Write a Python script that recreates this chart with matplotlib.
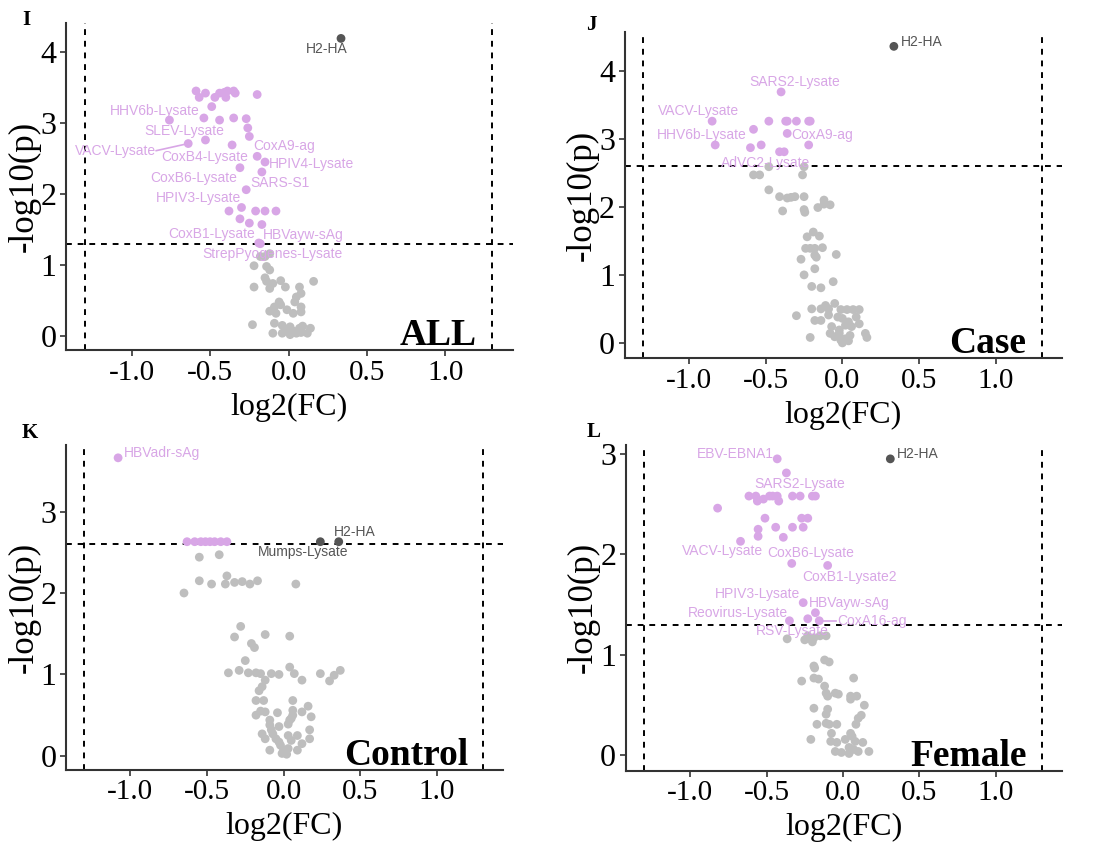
import matplotlib
matplotlib.use("Agg")
import matplotlib.pyplot as plt

plt.rcParams["axes.unicode_minus"] = False

# ---- panel I (ALL) ----
i_up_x = [-0.59, -0.57, -0.53, -0.47, -0.44, -0.41, -0.40, -0.39, -0.35, -0.34, -0.20,
          -0.49, -0.54, -0.44, -0.35, -0.27, -0.26, -0.25, -0.38, -0.30, -0.21, -0.15,
          -0.08, -0.25, -0.17]
i_up_y = [3.45, 3.36, 3.42, 3.36, 3.42, 3.43, 3.36, 3.45, 3.45, 3.42, 3.40,
          3.23, 3.07, 3.04, 3.07, 3.06, 2.93, 2.81, 1.76, 1.81, 1.76, 1.76,
          1.76, 1.59, 1.57]
i_ns_x = [-0.18, -0.15, -0.12, -0.22, -0.14, -0.12, -0.15, -0.14, -0.10, -0.05, -0.02,
          0.07, 0.08, 0.16, -0.22, -0.12, 0.05, 0.04, -0.06, -0.05, -0.09, -0.12,
          -0.08, 0.03, 0.08, 0.08, -0.01, -0.23, -0.09, -0.04, 0.01, 0.07, 0.09,
          0.14, -0.10, -0.04, 0.01, 0.05, 0.12, -0.01, 0.03, 0.08]
i_ns_y = [1.12, 1.12, 1.16, 0.99, 0.98, 0.93, 0.82, 0.77, 0.74, 0.78, 0.69,
          0.69, 0.60, 0.77, 0.69, 0.67, 0.55, 0.48, 0.48, 0.44, 0.41, 0.35,
          0.32, 0.32, 0.34, 0.41, 0.37, 0.16, 0.18, 0.15, 0.13, 0.11, 0.14,
          0.11, 0.04, 0.04, 0.02, 0.04, 0.04, 0.08, 0.07, 0.05]
i_hi_x = [0.335]
i_hi_y = [4.19]
i_hi_lab = ["H2-HA"]
i_lab = ["HHV6b-Lysate", "SLEV-Lysate", "VACV-Lysate", "CoxB4-Lysate", "CoxA9-ag",
         "HPIV4-Lysate", "CoxB6-Lysate", "SARS-S1", "HPIV3-Lysate", "CoxB1-Lysate",
         "HBVayw-sAg", "StrepPyogenes-Lysate"]
i_lab_x = [-0.76, -0.53, -0.64, -0.36, -0.20, -0.15, -0.31, -0.17, -0.27, -0.31, -0.18, -0.19]
i_lab_y = [3.04, 2.76, 2.71, 2.69, 2.53, 2.45, 2.37, 2.31, 2.06, 1.65, 1.30, 1.31]

# ---- panel J (Case) ----
j_up_x = [-0.58, -0.60, -0.53, -0.48, -0.37, -0.36, -0.30, -0.22, -0.21, -0.22, -0.38]
j_up_y = [3.14, 2.87, 2.91, 3.26, 3.26, 3.26, 3.26, 3.26, 3.26, 2.91, 2.81]
j_ns_x = [-0.48, -0.25, -0.58, -0.54, -0.26, -0.48, -0.41, -0.36, -0.335, -0.31, -0.25,
          -0.39, -0.25, -0.245, -0.16, -0.12, -0.12, -0.08, -0.23, -0.19, -0.15, -0.24,
          -0.21, -0.18, -0.13, -0.27, -0.18, -0.17, -0.04, -0.18, -0.25, -0.20, -0.14,
          -0.06, -0.20, -0.14, -0.11, -0.09, -0.05, -0.01, 0.03, 0.07, 0.11, -0.30,
          -0.18, -0.14, -0.09, -0.03, 0.00, 0.04, 0.09, -0.07, -0.02, 0.02, 0.06,
          0.11, -0.21, -0.05, -0.01, 0.02, 0.05, 0.15, 0.16, 0.00, 0.04, -0.08, -0.02]
j_ns_y = [2.59, 2.59, 2.47, 2.47, 2.47, 2.25, 2.15, 2.13, 2.14, 2.15, 2.15,
          1.94, 1.96, 1.92, 1.99, 2.10, 2.04, 2.03, 1.56, 1.63, 1.57, 1.39,
          1.39, 1.39, 1.40, 1.23, 1.29, 1.26, 1.30, 1.09, 1.00, 0.83, 0.81,
          0.90, 0.50, 0.50, 0.55, 0.50, 0.58, 0.49, 0.49, 0.49, 0.49, 0.40,
          0.33, 0.33, 0.41, 0.38, 0.36, 0.31, 0.38, 0.24, 0.19, 0.26, 0.24,
          0.28, 0.08, 0.09, 0.04, 0.06, 0.11, 0.14, 0.08, 0.00, 0.03, 0.14, 0.14]
j_hi_x = [0.336]
j_hi_y = [4.36]
j_hi_lab = ["H2-HA"]
j_lab = ["SARS2-Lysate", "VACV-Lysate", "HHV6b-Lysate", "CoxA9-ag", "AdVC2-Lysate"]
j_lab_x = [-0.40, -0.85, -0.83, -0.36, -0.41]
j_lab_y = [3.69, 3.26, 2.91, 3.08, 2.81]

# ---- panel K (Control) ----
k_up_x = [-0.63, -0.58, -0.54, -0.51, -0.48, -0.45, -0.41, -0.37]
k_up_y = [2.63, 2.63, 2.63, 2.63, 2.63, 2.63, 2.63, 2.63]
k_ns_x = [-0.55, -0.42, -0.65, -0.55, -0.47, -0.38, -0.37, -0.32, -0.27, -0.22, -0.17,
          0.08, -0.28, -0.32, -0.12, 0.04, -0.21, -0.19, -0.25, -0.36, -0.29, -0.23,
          -0.18, -0.15, -0.08, -0.03, 0.04, 0.07, 0.12, 0.24, 0.30, 0.33, 0.37,
          -0.12, -0.14, -0.16, -0.18, -0.13, -0.18, -0.15, -0.12, -0.04, 0.06, 0.06,
          0.06, 0.16, 0.12, 0.18, -0.09, -0.09, -0.08, -0.03, 0.03, 0.04, 0.05,
          0.17, -0.14, -0.12, -0.07, -0.05, -0.03, 0.03, 0.05, 0.09, 0.12, 0.17,
          -0.09, -0.02, 0.00, -0.01, 0.02, 0.03, 0.09]
k_ns_y = [2.44, 2.47, 2.00, 2.15, 2.11, 2.11, 2.21, 2.13, 2.14, 2.11, 2.15,
          2.11, 1.59, 1.46, 1.49, 1.47, 1.38, 1.33, 1.17, 1.02, 1.05, 1.02,
          1.02, 1.01, 1.01, 1.00, 1.09, 1.01, 0.93, 1.01, 0.92, 0.99, 1.05,
          0.93, 0.85, 0.80, 0.68, 0.68, 0.50, 0.55, 0.54, 0.53, 0.68, 0.56,
          0.50, 0.61, 0.54, 0.48, 0.44, 0.38, 0.32, 0.36, 0.39, 0.44, 0.46,
          0.32, 0.27, 0.21, 0.27, 0.21, 0.17, 0.25, 0.19, 0.25, 0.15, 0.21,
          0.07, 0.13, 0.07, 0.03, 0.02, 0.09, 0.07]
k_hi_x = [0.36, 0.24]
k_hi_y = [2.63, 2.63]
k_hi_lab = ["H2-HA", "Mumps-Lysate"]
k_lab = ["HBVadr-sAg"]
k_lab_x = [-1.08]
k_lab_y = [3.66]

# ---- panel L (Female) ----
l_up_x = [-0.615, -0.57, -0.56, -0.52, -0.48, -0.46, -0.43, -0.42, -0.33, -0.28, -0.20,
          -0.18, -0.82, -0.51, -0.27, -0.23, -0.555, -0.555, -0.44, -0.33, -0.26, -0.39]
l_up_y = [2.58, 2.58, 2.53, 2.55, 2.58, 2.58, 2.58, 2.53, 2.58, 2.58, 2.58,
          2.58, 2.46, 2.36, 2.36, 2.36, 2.25, 2.18, 2.27, 2.27, 2.27, 2.17]
l_ns_x = [-0.365, -0.25, -0.23, -0.20, -0.19, -0.15, -0.11, -0.19, -0.185, -0.12, -0.09,
          -0.27, -0.19, -0.16, 0.07, -0.12, -0.11, -0.10, -0.05, -0.03, 0.05, 0.05,
          0.09, 0.14, -0.19, -0.10, -0.11, 0.12, 0.10, -0.17, -0.11, -0.09, -0.04,
          0.085, -0.075, 0.05, 0.06, -0.21, -0.08, -0.04, 0.015, 0.08, 0.13, 0.17,
          -0.05, -0.01, 0.04, 0.07, 0.10, 0.04]
l_ns_y = [1.16, 1.15, 1.19, 1.13, 1.17, 1.19, 1.19, 0.89, 0.87, 0.95, 0.93,
          0.74, 0.77, 0.76, 0.77, 0.69, 0.62, 0.59, 0.62, 0.61, 0.59, 0.56,
          0.59, 0.50, 0.47, 0.46, 0.41, 0.40, 0.37, 0.31, 0.32, 0.31, 0.31,
          0.31, 0.22, 0.22, 0.19, 0.16, 0.14, 0.13, 0.16, 0.14, 0.13, 0.04,
          0.04, 0.03, 0.02, 0.06, 0.04, 0.08]
l_hi_x = [0.31]
l_hi_y = [2.95]
l_hi_lab = ["H2-HA"]
l_lab = ["EBV-EBNA1", "SARS2-Lysate", "VACV-Lysate", "CoxB6-Lysate", "CoxB1-Lysate2",
         "HPIV3-Lysate", "HBVayw-sAg", "Reovirus-Lysate", "CoxA16-ag", "RSV-Lysate"]
l_lab_x = [-0.43, -0.37, -0.67, -0.335, -0.10, -0.18, -0.26, -0.35, -0.155, -0.23]
l_lab_y = [2.95, 2.81, 2.13, 1.91, 1.89, 1.42, 1.52, 1.34, 1.34, 1.36]

# label text placement (data coords, ha, line to point)
text_at = {
    "I": {"H2-HA": (0.246, 4.04, "center", False),
          "HHV6b-Lysate": (-0.853, 3.17, "center", False),
          "SLEV-Lysate": (-0.667, 2.88, "center", False),
          "VACV-Lysate": (-1.104, 2.61, "center", True),
          "CoxB4-Lysate": (-0.533, 2.52, "center", False),
          "CoxA9-ag": (-0.025, 2.68, "center", False),
          "HPIV4-Lysate": (0.144, 2.42, "center", False),
          "CoxB6-Lysate": (-0.605, 2.22, "center", False),
          "SARS-S1": (-0.057, 2.16, "center", False),
          "HPIV3-Lysate": (-0.573, 1.95, "center", False),
          "CoxB1-Lysate": (-0.49, 1.43, "center", False),
          "HBVayw-sAg": (0.096, 1.42, "center", False),
          "StrepPyogenes-Lysate": (-0.10, 1.15, "center", False)},
    "J": {"H2-HA": (0.38, 4.43, "left", False),
          "SARS2-Lysate": (-0.31, 3.84, "center", False),
          "VACV-Lysate": (-0.94, 3.41, "center", False),
          "HHV6b-Lysate": (-0.915, 3.05, "center", False),
          "CoxA9-ag": (-0.13, 3.05, "center", False),
          "AdVC2-Lysate": (-0.50, 2.65, "center", False)},
    "K": {"HBVadr-sAg": (-1.043, 3.72, "left", False),
          "H2-HA": (0.463, 2.75, "center", False),
          "Mumps-Lysate": (0.13, 2.50, "center", False)},
    "L": {"H2-HA": (0.356, 3.0, "left", False),
          "EBV-EBNA1": (-0.707, 3.0, "center", False),
          "SARS2-Lysate": (-0.28, 2.70, "center", False),
          "VACV-Lysate": (-0.785, 2.03, "center", False),
          "CoxB6-Lysate": (-0.21, 2.01, "center", False),
          "CoxB1-Lysate2": (0.043, 1.78, "center", False),
          "HPIV3-Lysate": (-0.56, 1.61, "center", False),
          "HBVayw-sAg": (-0.22, 1.52, "left", False),
          "Reovirus-Lysate": (-0.69, 1.42, "center", False),
          "CoxA16-ag": (-0.038, 1.34, "left", True),
          "RSV-Lysate": (-0.33, 1.24, "center", False)},
}

PURPLE = "#D8A6E6"
GREY = "#BEBEBE"
DARK = "#555555"
SERIF = "Liberation Serif"
SANS = "Liberation Sans"
DOT = 40

panels = [
    ("I", "ALL", [0.060, 0.585, 0.406, 0.388], (-0.2, 4.41), [0, 1, 2, 3, 4], 1.30,
     i_up_x, i_up_y, i_ns_x, i_ns_y, i_hi_x, i_hi_y, i_hi_lab, i_lab, i_lab_x, i_lab_y),
    ("J", "Case", [0.568, 0.576, 0.397, 0.386], (-0.22, 4.57), [0, 1, 2, 3, 4], 2.60,
     j_up_x, j_up_y, j_ns_x, j_ns_y, j_hi_x, j_hi_y, j_hi_lab, j_lab, j_lab_x, j_lab_y),
    ("K", "Control", [0.060, 0.088, 0.397, 0.385], (-0.17, 3.82), [0, 1, 2, 3], 2.60,
     k_up_x, k_up_y, k_ns_x, k_ns_y, k_hi_x, k_hi_y, k_hi_lab, k_lab, k_lab_x, k_lab_y),
    ("L", "Female", [0.569, 0.087, 0.396, 0.386], (-0.15, 3.09), [0, 1, 2, 3], 1.30,
     l_up_x, l_up_y, l_ns_x, l_ns_y, l_hi_x, l_hi_y, l_hi_lab, l_lab, l_lab_x, l_lab_y),
]

fig = plt.figure(figsize=(11, 8.44), dpi=100)

for (tag, name, rect, ylim, yticks, hline, upx, upy, nsx, nsy, hix, hiy, hilab,
     lab, labx, laby) in panels:
    ax = fig.add_axes(rect)
    ax.scatter(nsx, nsy, s=DOT, color=GREY, edgecolors="none", zorder=2)
    ax.scatter(upx, upy, s=DOT, color=PURPLE, edgecolors="none", zorder=3)
    ax.scatter(labx, laby, s=DOT, color=PURPLE, edgecolors="none", zorder=3)
    ax.scatter(hix, hiy, s=DOT, color=DARK, edgecolors="none", zorder=3)

    for v in (-1.3, 1.3):
        ax.axvline(v, color="black", ls=(0, (3, 3)), lw=1.4, zorder=1)
    ax.axhline(hline, color="black", ls=(0, (3, 3)), lw=1.4, zorder=1)

    pts = list(zip(lab, labx, laby, [PURPLE] * len(lab))) + \
        list(zip(hilab, hix, hiy, [DARK] * len(hilab)))
    for txt, px, py, col in pts:
        tx, ty, ha, seg = text_at[tag][txt]
        t = ax.text(tx, ty, txt, color=col, fontsize=10, family=SANS,
                    ha=ha, va="center", zorder=4)
        if seg:
            if ha == "center":
                # segment from right end of text to the point
                fig.canvas.draw()
                bb = t.get_window_extent().transformed(ax.transData.inverted())
                ax.plot([bb.x1, px], [ty, py], color=col, lw=1.2, zorder=4)
            else:
                ax.plot([px, tx - 0.01], [py, ty], color=col, lw=1.2, zorder=4)

    ax.set_xlim(-1.42, 1.43)
    ax.set_ylim(*ylim)
    ax.set_xticks([-1.0, -0.5, 0.0, 0.5, 1.0])
    ax.set_xticklabels(["-1.0", "-0.5", "0.0", "0.5", "1.0"])
    ax.set_yticks(yticks)
    for lbl in ax.get_xticklabels():
        lbl.set_family(SERIF)
        lbl.set_fontsize(21)
    for lbl in ax.get_yticklabels():
        lbl.set_family(SERIF)
        lbl.set_fontsize(23)
    ax.tick_params(length=4, width=1.2, color="#333333", pad=3)
    for s in ("top", "right"):
        ax.spines[s].set_visible(False)
    for s in ("left", "bottom"):
        ax.spines[s].set_linewidth(1.5)
        ax.spines[s].set_color("#333333")
    ax.set_xlabel("log2(FC)", family=SERIF, fontsize=23, labelpad=5)
    ax.set_ylabel("-log10(p)", family=SERIF, fontsize=25, labelpad=0)
    ax.text(0.92, 0.015, name, transform=ax.transAxes, ha="right", va="baseline",
            family=SERIF, fontsize=27, fontweight="bold", zorder=5)

fig.text(0.020, 0.976, "I", family=SERIF, fontsize=15, fontweight="bold", va="center")
fig.text(0.533, 0.970, "J", family=SERIF, fontsize=15, fontweight="bold", va="center")
fig.text(0.020, 0.487, "K", family=SERIF, fontsize=15, fontweight="bold", va="center")
fig.text(0.533, 0.488, "L", family=SERIF, fontsize=15, fontweight="bold", va="center")

fig.savefig("out.png", dpi=100)
